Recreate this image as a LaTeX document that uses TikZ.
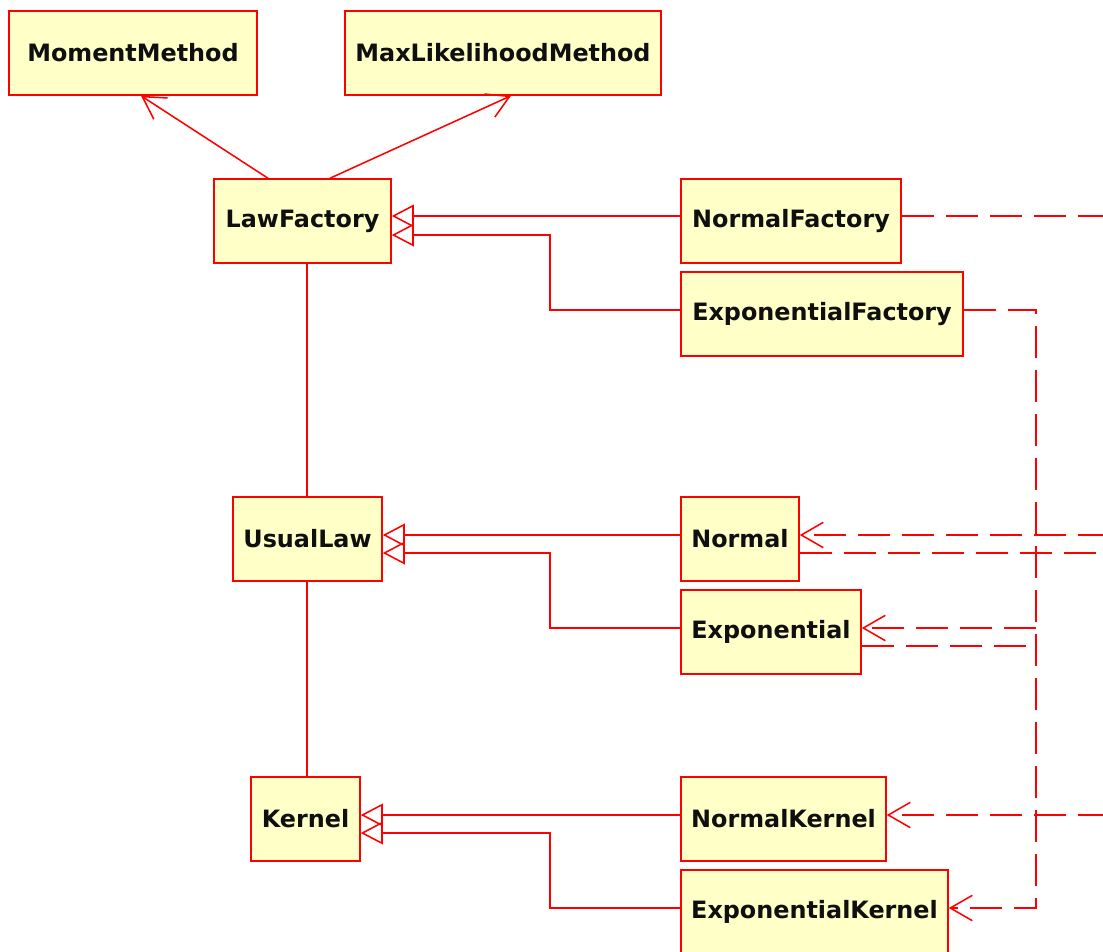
\documentclass[tikz,border=0pt]{standalone}
\usepackage{fontspec}
\setmainfont{DejaVu Sans}
\usetikzlibrary{arrows.meta}
\definecolor{umlred}{RGB}{255,0,0}
\definecolor{umlfill}{RGB}{255,255,200}
\definecolor{umltext}{RGB}{15,15,15}

\begin{document}
\begin{tikzpicture}[x=0.75pt,y=-0.75pt,
  cls/.style={draw=umlred, fill=umlfill, line width=1.15pt, minimum height=63pt,
    inner sep=0pt, text=umltext, font=\fontsize{17.9}{20}\selectfont\bfseries},
  link/.style={draw=umlred, line width=1.15pt},
  inherit/.style={link, -{Triangle[open, length=16.5pt, width=17pt]}},
  uses/.style={link, -{Straight Barb[length=16.5pt, width=19pt]}},
  dashln/.style={link, dash pattern=on 24pt off 9pt},
  depend/.style={dashln, -{Straight Barb[length=16.5pt, width=19pt]}}
]
\useasboundingbox (0,0) rectangle (1103,951);
\clip (0,0) rectangle (1103,951);

% classes
\node[cls, minimum width=186pt]    (MomentMethod)       at (133,53)    {MomentMethod};
\node[cls, minimum width=237pt]    (MaxLikelihood)      at (503,53)    {MaxLikelihoodMethod};
\node[cls, minimum width=132.75pt] (LawFactory)         at (302.5,221) {LawFactory};
\node[cls, minimum width=165pt]    (NormalFactory)      at (791,221)   {NormalFactory};
\node[cls, minimum width=211.5pt]  (ExponentialFactory) at (822,314)   {ExponentialFactory};
\node[cls, minimum width=111.75pt] (UsualLaw)           at (307.5,539) {UsualLaw};
\node[cls, minimum width=88.5pt]   (Normal)             at (740,539)   {Normal};
\node[cls, minimum width=135pt]    (Exponential)        at (771,632)   {Exponential};
\node[cls, minimum width=81.75pt]  (Kernel)             at (305.5,819) {Kernel};
\node[cls, minimum width=153.75pt] (NormalKernel)       at (783.5,819) {NormalKernel};
\node[cls, minimum width=200.25pt] (ExponentialKernel)  at (814.5,912) {ExponentialKernel};

% associations of the factory
\draw[uses] (LawFactory.north -| 268,0) -- (MomentMethod.south -| 141,0);
\draw[uses] (LawFactory.north -| 330,0) -- (MaxLikelihood.south -| 511,0);

% vertical links
\draw[link] (LawFactory.south -| 307,0) -- (UsualLaw.north -| 307,0);
\draw[link] (UsualLaw.south -| 307,0) -- (Kernel.north -| 307,0);

% generalizations
\draw[inherit] (NormalFactory.west |- 0,216) -- (LawFactory.east |- 0,216);
\draw[inherit] (ExponentialFactory.west |- 0,310) -| (550,235) -- (LawFactory.east |- 0,235);
\draw[inherit] (Normal.west |- 0,535) -- (UsualLaw.east |- 0,535);
\draw[inherit] (Exponential.west |- 0,628) -| (550,553) -- (UsualLaw.east |- 0,553);
\draw[inherit] (NormalKernel.west |- 0,815) -- (Kernel.east |- 0,815);
\draw[inherit] (ExponentialKernel.west |- 0,908) -| (550,833) -- (Kernel.east |- 0,833);

% dependencies
\coordinate (outNF) at (1110,216);
\coordinate (inN)   at (1110,535);
\coordinate (outN)  at (1110,553);
\coordinate (inNK)  at (1110,815);
\coordinate (trunkTop) at (1036,310);
\coordinate (trunkExp) at (1036,628);
\coordinate (trunkEnd) at (1036,646);

\draw[dashln] (NormalFactory.east |- 0,216) -- (outNF);
\draw[depend] (ExponentialFactory.east |- 0,310) -- (trunkTop) -- (1036,908)
  -- (ExponentialKernel.east |- 0,908);
\draw[depend] (trunkExp) -- (Exponential.east |- 0,628);
\draw[dashln] (Exponential.east |- 0,646) -- ([xshift=-6]trunkEnd);
\draw[depend] (inN) -- (Normal.east |- 0,535);
\draw[dashln] (Normal.east |- 0,553) -- (outN);
\draw[depend] (inNK) -- (NormalKernel.east |- 0,815);
\end{tikzpicture}
\end{document}
